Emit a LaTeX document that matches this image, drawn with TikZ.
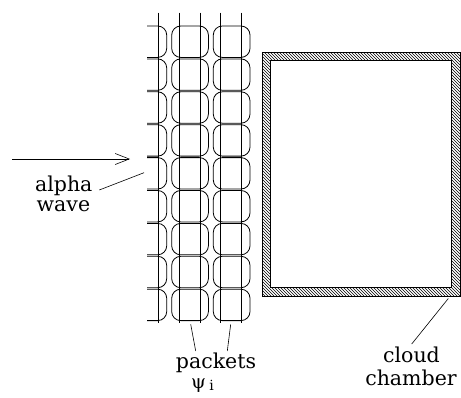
\documentclass[tikz,border=0pt]{standalone}
\usepackage{fontspec}
\setmainfont{DejaVu Serif}
\usetikzlibrary{patterns,arrows.meta}
\begin{document}
\begin{tikzpicture}[x=1pt,y=-1pt,
  box/.style={draw, line width=0.8pt, rounded corners=9pt},
  vline/.style={line width=0.8pt},
  pointer/.style={line width=0.6pt},
  lbl/.style={inner sep=0pt, font=\fontsize{20.5}{20.5}\selectfont},
  wall/.style={pattern=north west lines, even odd rule},
  edge/.style={draw, line width=0.8pt}]
\useasboundingbox (0,0) rectangle (461,397);
% packets grid
\begin{scope}
  \clip (147,0) rectangle (171,397);
  \foreach \i in {0,...,8}
    \draw[box] (130,{26+32.9*\i}) rectangle (166.7,{57.4+32.9*\i});
\end{scope}
\foreach \l in {171.7,213.3}
  \foreach \i in {0,...,8}
    \draw[box] (\l,{26+32.9*\i}) rectangle ({\l+36.7},{57.4+32.9*\i});
\foreach \x in {158.3,179.3,200,220,241.7}
  \draw[vline] (\x,12.7) -- (\x,323);
% cloud chamber
\path[wall] (262,52) rectangle (460,296.5) (270.5,60.5) rectangle (451,287);
\draw[edge] (262,52) rectangle (460,296.5);
\draw[edge] (270.5,60.5) rectangle (451,287);
% labels
\node[lbl, anchor=base] (alpha) at (63.8,191.5) {alpha};
\node[lbl, anchor=base] (wave) at (63.4,211) {wave};
\node[lbl, anchor=base] (packets) at (216,368.3) {packets};
\node[lbl, anchor=base west, font=\fontsize{19}{19}\selectfont] (psi) at (191,388) {ψ\,\raisebox{-2pt}{\fontsize{14}{14}\selectfont i}};
\node[lbl, anchor=base] (cloud) at (411.5,362.5) {cloud};
\node[lbl, anchor=base] (chamber) at (411,385.5) {chamber};
% arrow
\coordinate (arrowstart) at (12,159);
\coordinate (arrowend) at (130,159);
\draw[pointer, -{Straight Barb[length=14pt,width=11pt]}] (arrowstart) -- (arrowend);
% pointers
\coordinate (awA) at (99.3,190);
\coordinate (awB) at (144,172.7);
\draw[pointer] (awA) -- (awB);
\coordinate (pkA) at (195.7,351);
\coordinate (pkB) at (190.7,324.3);
\draw[pointer] (pkA) -- (pkB);
\coordinate (pkC) at (227.3,351);
\coordinate (pkD) at (230.7,324.3);
\draw[pointer] (pkC) -- (pkD);
\coordinate (ccA) at (411.7,344);
\coordinate (ccB) at (448.3,298.5);
\draw[pointer] (ccA) -- (ccB);
\end{tikzpicture}
\end{document}
